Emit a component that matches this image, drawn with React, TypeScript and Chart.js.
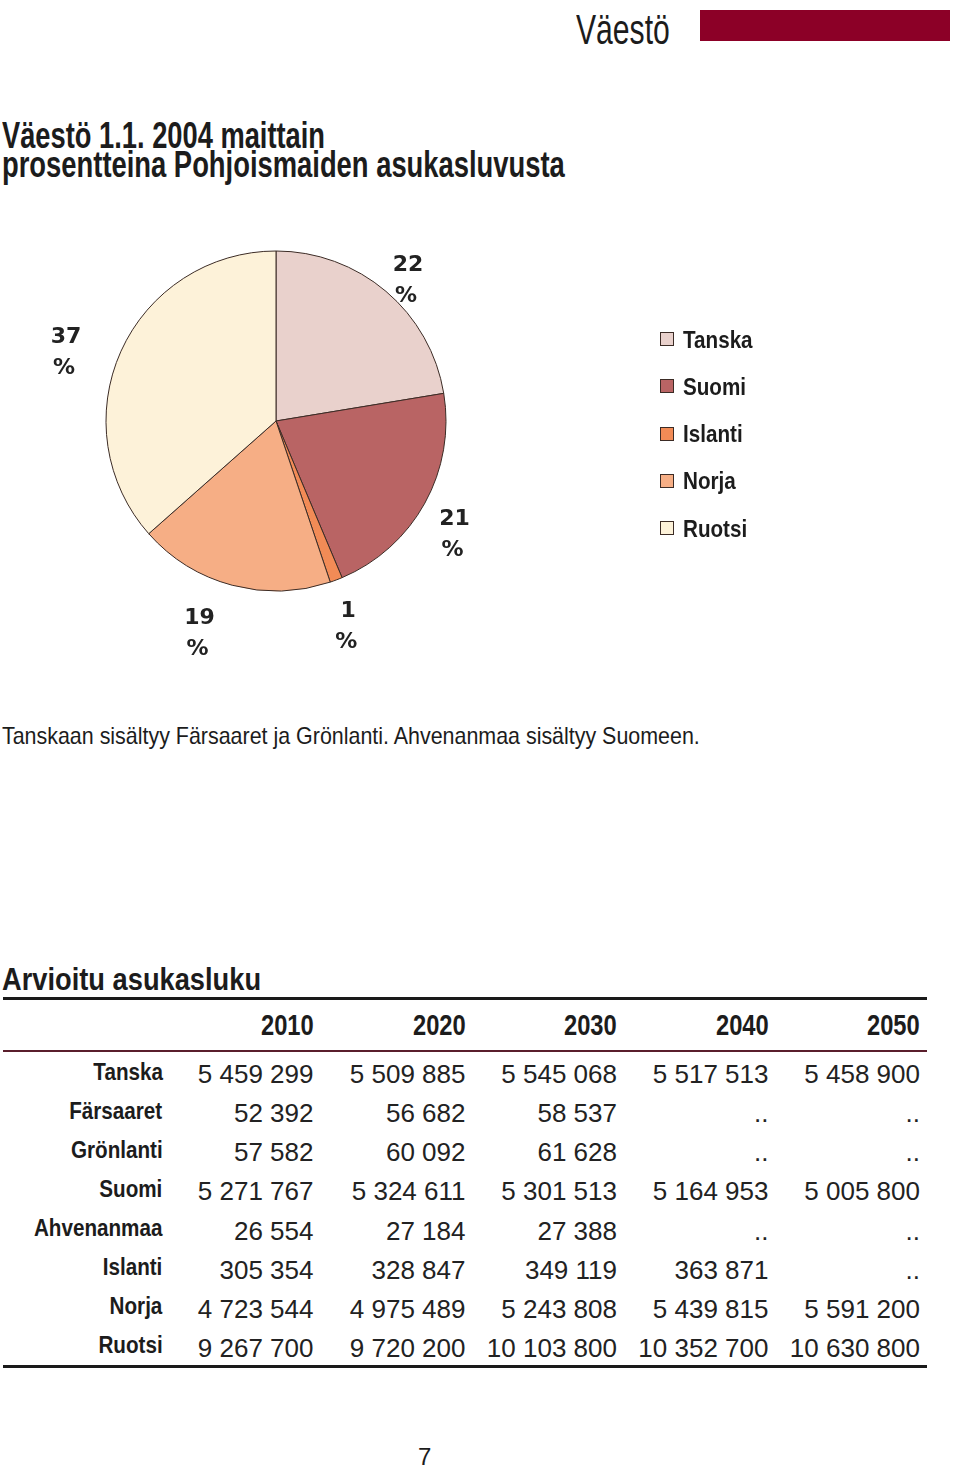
import React, { useEffect, useLayoutEffect, useRef, useState } from "react";
import { Chart, registerables } from "chart.js";

Chart.register(...registerables);

// ---------- data ----------
const countries = ["Tanska", "Suomi", "Islanti", "Norja", "Ruotsi"];
const population2004 = [5502708, 5219732, 290570, 4577457, 8975670];

const years = ["2010", "2020", "2030", "2040", "2050"];
const regions = ["Tanska", "Färsaaret", "Grönlanti", "Suomi", "Ahvenanmaa", "Islanti", "Norja", "Ruotsi"];
const tanskaRow = [5459299, 5509885, 5545068, 5517513, 5458900];
const farsaaretRow = [52392, 56682, 58537, null, null];
const gronlantiRow = [57582, 60092, 61628, null, null];
const suomiRow = [5271767, 5324611, 5301513, 5164953, 5005800];
const ahvenanmaaRow = [26554, 27184, 27388, null, null];
const islantiRow = [305354, 328847, 349119, 363871, null];
const norjaRow = [4723544, 4975489, 5243808, 5439815, 5591200];
const ruotsiRow = [9267700, 9720200, 10103800, 10352700, 10630800];
const tableRows = [tanskaRow, farsaaretRow, gronlantiRow, suomiRow, ahvenanmaaRow, islantiRow, norjaRow, ruotsiRow];

// ---------- styles ----------
const sliceColors = ["#e9d1cc", "#b96464", "#f28b56", "#f6ae85", "#fdf2d9"];
const sliceBorder = "#3b2b25";
const SANS = '"Liberation Sans", Arial, Helvetica, sans-serif';
const TEXT = "#1c1c1c";
const CONDENSE = 0.86;

const fmt = (n: number | null) =>
  n === null ? ".." : String(n).replace(/\B(?=(\d{3})+(?!\d))/g, " ");

function T(props: {
  x: number; y: number; size: number; weight?: number; family?: string;
  w?: number; sx?: number; align?: "left" | "right"; color?: string; children: string;
}) {
  const { x, y, size, weight = 400, family = SANS, w, sx: fixed = 1, align = "left", color = TEXT, children } = props;
  const ref = useRef<HTMLSpanElement>(null);
  const [sx, setSx] = useState(fixed);
  useLayoutEffect(() => {
    if (!w || !ref.current) return;
    const nat = ref.current.offsetWidth;
    if (nat > 0) setSx(w / nat);
  }, [w, children]);
  const style: any = {
    position: "absolute",
    top: y - 0.847 * size,
    whiteSpace: "pre",
    fontFamily: family,
    fontSize: size,
    fontWeight: weight,
    lineHeight: `${size}px`,
    color,
    transform: `scaleX(${sx})`,
    transformOrigin: align === "left" ? "left top" : "right top",
  };
  if (align === "left") style.left = x;
  else style.right = 960 - x;
  return <span ref={ref} style={style}>{children}</span>;
}

const pieExtras = {
  id: "pieExtras",
  afterDraw(chart: any) {
    const ctx = chart.ctx;
    const meta = chart.getDatasetMeta(0);
    const data = chart.data.datasets[0].data as number[];
    const total = data.reduce((a, b) => a + b, 0);
    ctx.save();
    ctx.fillStyle = "#222";
    ctx.font = 'bold 22px "DejaVu Sans", Verdana, sans-serif';
    ctx.textAlign = "center";
    ctx.textBaseline = "middle";
    meta.data.forEach((arc: any, i: number) => {
      const p = arc.getProps(["x", "y", "startAngle", "endAngle", "outerRadius"], true);
      const mid = (p.startAngle + p.endAngle) / 2;
      const r = p.outerRadius + 34;
      let px = p.x + Math.cos(mid) * r;
      const py = p.y + Math.sin(mid) * r;
      if (Math.cos(mid) < -0.2) px -= 24;
      const pct = Math.round((data[i] / total) * 100);
      ctx.fillText(String(pct), px, py);
      ctx.fillText("%", px - 2, py + 31);
    });
    // legend
    const labels = chart.data.labels as string[];
    const colors = chart.data.datasets[0].backgroundColor as string[];
    labels.forEach((lab, i) => {
      const cy = 139 + i * 47.3;
      ctx.fillStyle = colors[i];
      ctx.fillRect(660, Math.round(cy - 7), 14, 14);
      ctx.strokeStyle = sliceBorder;
      ctx.lineWidth = 1;
      ctx.strokeRect(660.5, Math.round(cy - 7) + 0.5, 13, 13);
      ctx.save();
      ctx.translate(683, cy + 8.5);
      ctx.scale(CONDENSE, 1);
      ctx.textAlign = "left";
      ctx.textBaseline = "alphabetic";
      ctx.font = `bold 24px ${SANS}`;
      ctx.fillStyle = TEXT;
      ctx.fillText(lab, 0, 0);
      ctx.restore();
    });
    ctx.restore();
  },
};

function PieChart() {
  const ref = useRef<HTMLCanvasElement>(null);
  useEffect(() => {
    if (!ref.current) return;
    const chart = new Chart(ref.current, {
      type: "pie",
      data: {
        labels: countries,
        datasets: [
          {
            data: population2004,
            backgroundColor: sliceColors,
            borderColor: sliceBorder,
            borderWidth: 1,
          },
        ],
      },
      options: {
        responsive: false,
        animation: false,
        radius: 170,
        layout: { padding: { left: 0, right: 408, top: 0, bottom: 38 } },
        plugins: { legend: { display: false }, tooltip: { enabled: false } },
      } as any,
      plugins: [pieExtras],
    });
    return () => chart.destroy();
  }, []);
  return (
    <canvas
      ref={ref}
      width={960}
      height={480}
      style={{ position: "absolute", left: 0, top: 200, width: 960, height: 480 }}
    />
  );
}

const colRight = [313.5, 465.5, 617, 768.5, 920];

export default function App() {
  const rowBase = (i: number) => 1083.3 + i * 39.06;
  return (
    <div style={{ position: "absolute", left: 0, top: 0, width: 960, height: 1467, background: "#fff", overflow: "hidden" }}>
      {/* header */}
      <T x={576} y={45} size={42} w={94}>Väestö</T>
      <div style={{ position: "absolute", left: 700, top: 10, width: 250, height: 31, background: "#8c0027" }} />

      {/* title */}
      <T x={2} y={148} size={37} weight={700} w={323}>Väestö 1.1. 2004 maittain</T>
      <T x={2} y={177} size={37} weight={700} w={563}>prosentteina Pohjoismaiden asukasluvusta</T>

      <PieChart />

      <T x={2} y={744} size={24} w={698}>Tanskaan sisältyy Färsaaret ja Grönlanti. Ahvenanmaa sisältyy Suomeen.</T>

      {/* table */}
      <T x={2} y={990} size={32} weight={700} w={259}>Arvioitu asukasluku</T>
      <div style={{ position: "absolute", left: 3, top: 997, width: 924, height: 3, background: "#1a1a1a" }} />
      {years.map((yr, j) => (
        <T key={yr} x={colRight[j]} y={1035} size={30} weight={700} align="right" w={53}>{yr}</T>
      ))}
      <div style={{ position: "absolute", left: 3, top: 1049.5, width: 924, height: 2, background: "#5a1e2c" }} />
      {regions.map((reg, i) => (
        <React.Fragment key={reg}>
          <T x={162.5} y={rowBase(i) - 3.4} size={24} weight={700} align="right" sx={CONDENSE}>{reg}</T>
          {tableRows[i].map((v, j) => (
            <T key={j} x={colRight[j]} y={rowBase(i)} size={26} align="right" color="#222">{fmt(v)}</T>
          ))}
        </React.Fragment>
      ))}
      <div style={{ position: "absolute", left: 3, top: 1364.5, width: 924, height: 3, background: "#1a1a1a" }} />

      <T x={418} y={1465} size={24}>7</T>
    </div>
  );
}
